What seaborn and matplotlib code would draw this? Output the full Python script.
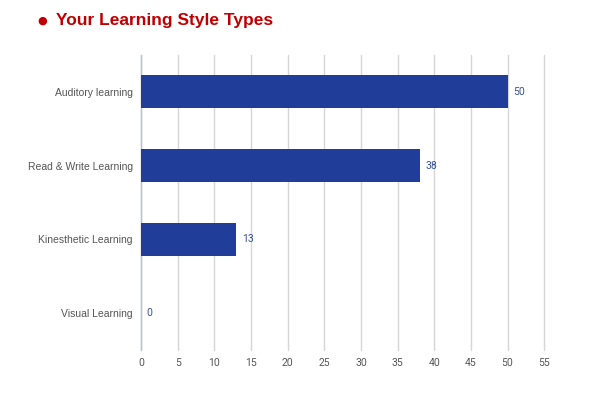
import matplotlib
matplotlib.use('Agg')
import matplotlib.pyplot as plt
import numpy as np
import pandas as pd
import seaborn as sns

# data
styles = ['Auditory learning', 'Read & Write Learning', 'Kinesthetic Learning', 'Visual Learning']
scores = [50, 38, 13, 0]
x_ticks = [0, 5, 10, 15, 20, 25, 30, 35, 40, 45, 50, 55]

df = pd.DataFrame({'Style': styles, 'Score': scores})

sns.set_theme(style='white')
plt.rcParams['font.family'] = ['Liberation Sans', 'DejaVu Sans']

fig = plt.figure(figsize=(6, 4.2), dpi=100)
ax = fig.add_axes([0.235, 0.167, 0.672, 0.702])

sns.barplot(data=df, x='Score', y='Style', orient='h', color='#1f3d99',
            saturation=1, width=0.45, linewidth=0, ax=ax, zorder=3)

# value labels
for i, v in enumerate(scores):
    ax.text(v + 0.8, i, f'{v}', va='center', ha='left', fontsize=7.5,
            color='#34509e', family='Roboto')

ax.set_xlim(0, 55)
ax.set_ylim(3.5, -0.5)
ax.set_xticks(x_ticks)
ax.xaxis.grid(True, color='#d6d6d6', linewidth=1, zorder=0)
for gl in ax.get_xgridlines():
    gl.set_clip_on(False)
ax.yaxis.grid(False)
ax.set_xlabel('')
ax.set_ylabel('')
ax.tick_params(axis='both', labelsize=7.5, colors='#555555', length=0, pad=6)
for lbl in ax.get_xticklabels():
    lbl.set_family('Roboto')
for s in ['top', 'right', 'bottom']:
    ax.spines[s].set_visible(False)
ax.spines['left'].set_color('#b8c2d6')
ax.spines['left'].set_linewidth(1)

# title with red bullet
fig.text(0.063, 0.95, '\u25CF', color='#c00000', fontsize=8, va='center',
         family='DejaVu Sans')
fig.text(0.094, 0.95, 'Your Learning Style Types', color='#c00000',
         fontsize=12.5, fontweight='bold', va='center')

fig.savefig('out.png', dpi=100, facecolor='white')
